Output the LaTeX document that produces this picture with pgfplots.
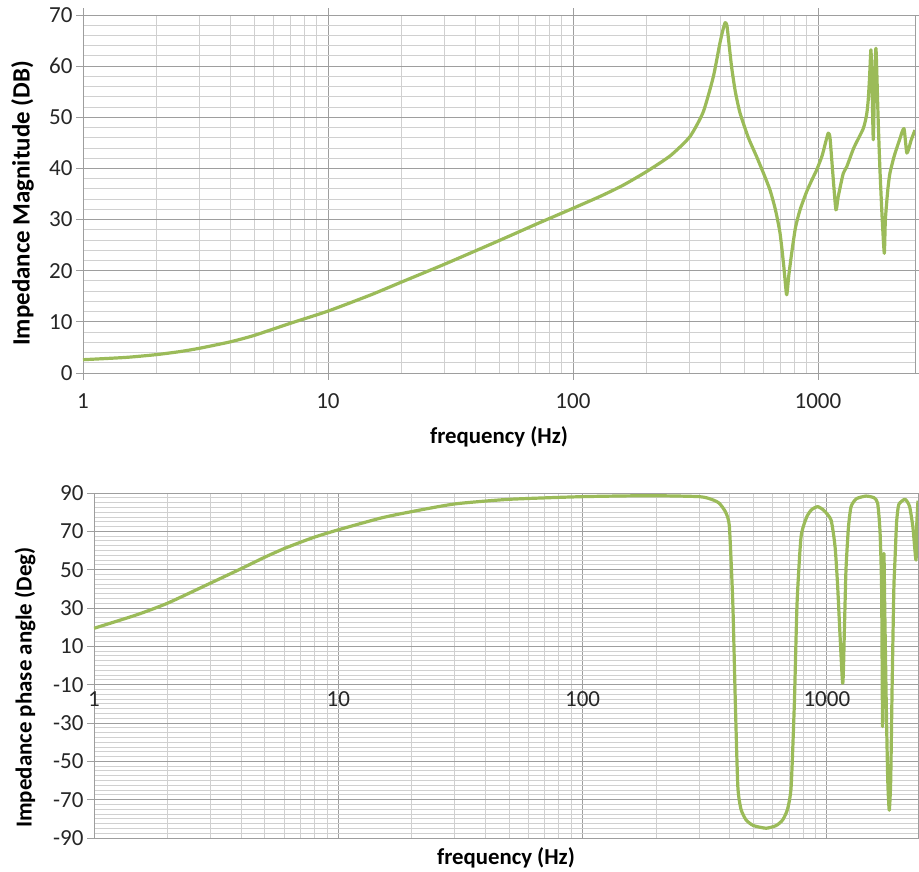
\documentclass[border=0pt]{standalone}
\usepackage{fontspec}
\setmainfont{Carlito}
\usepackage{pgfplots}
\pgfplotsset{compat=1.18}
\definecolor{curve}{RGB}{155,187,89}
\definecolor{majg}{RGB}{158,158,158}
\definecolor{ming}{RGB}{208,208,208}
\pgfplotstableread{
f db
1 2.6
1.5 3.05
2 3.6
2.5 4.2
3 4.85
4 6.1
5 7.35
7 9.7
10 12.1
15 15.3
20 17.8
30 21.3
50 25.9
70 29.0
100 32.2
130 34.6
160 36.7
200 39.4
250 42.5
300 46.2
340 51
374 57.9
398 64.5
410 67.2
418 68.5
425 68
432 65
444 59.9
460 55
481 50.8
520 46
562 42.3
600 39
637 35.8
670 32
700 27.4
725 21
745 15.3
760 19
781 23.4
810 28.5
845 31.9
900 35.5
950 38
988 39.7
1040 42.5
1080 45.5
1102 46.9
1120 46
1150 39
1184 31.9
1210 34.5
1268 39.0
1310 40.3
1400 44
1531 47.8
1580 50.5
1604 53.4
1625 58
1645 63.2
1660 58
1682 45.6
1700 55
1725 63.5
1760 50
1790 40
1830 30
1866 23.4
1885 30
1930 36
1968 39.1
2050 42.5
2150 45.5
2244 47.8
2307 43.0
2400 45.5
2489 47.5
}\magtable
\pgfplotstableread{
f ph
1 19.4
1.5 26.5
2 32.5
3 43
4 50.5
5 56.5
6 61
7 64.3
8 67
10 70.8
15 77
20 80.3
30 84.3
50 86.7
100 88.1
188 88.6
301 88.1
340 86.5
363 84.6
385 80
399 72.4
412 32.5
422 -19.7
432 -63.2
445 -75
467 -80.6
500 -83.5
564 -84.9
620 -83.5
659 -80.6
690 -75
714 -63.2
736 -19.7
755 32.5
784 67.2
830 78
870 81.5
916 82.9
970 81
1040 75.9
1080 62
1107 41.1
1160 -9.3
1180 20
1197 49.8
1225 72
1256 82.9
1320 87
1446 88.4
1560 87.5
1614 84.6
1650 70
1675 40
1690 -31.9
1700 20
1712 58.5
1725 30
1750 -20
1775 -60
1800 -75.5
1825 -60
1850 -10
1880 40
1900 55
1930 75
1970 84
2089 86.7
2180 83
2250 72
2316 55
2335 75
2360 86
}\phtable
\begin{document}
\begin{tikzpicture}
\useasboundingbox (0,0) rectangle (919pt,871pt);
\begin{semilogxaxis}[
  scale only axis,
  grid=both,
  major grid style={majg, line width=0.9pt},
  minor grid style={ming, line width=0.9pt},
  axis line style={majg, line width=0.9pt},
  tick style={majg, line width=0.9pt},
  tick align=outside, major tick length=7pt, minor tick length=0pt,
  ticklabel style={font=\fontsize{23}{27}\selectfont, text=black!85},
  xticklabel style={yshift=-10pt},
  xlabel style={font=\bfseries\fontsize{22.8}{27}\selectfont, text=black},
  ylabel style={font=\bfseries\fontsize{24.9}{29}\selectfont, text=black},
  xtick={1,10,100,1000}, xticklabels={1,10,100,1000},
  at={(83pt,498pt)}, anchor=south west, width=832pt, height=358pt,
  xmin=1, xmax=2490, ymin=0, ymax=70,
  ytick={0,10,...,70}, yticklabels={0,10,20,30,40,50,60,70}, minor y tick num=4,
  xlabel={frequency (Hz)}, ylabel={Impedance Magnitude (DB)},
  xlabel style={at={(axis description cs:0.5,-0.179)}, anchor=center},
  ylabel style={at={(axis description cs:-0.0727,0.4735)}, anchor=center},
]
\addplot[curve, line width=3.2pt, line join=round, smooth, tension=0.35] table[x=f, y=db] {\magtable};
\end{semilogxaxis}
\begin{semilogxaxis}[
  scale only axis,
  grid=both,
  major grid style={majg, line width=0.9pt},
  minor grid style={ming, line width=0.9pt},
  axis line style={majg, line width=0.9pt},
  tick style={majg, line width=0.9pt},
  tick align=outside, major tick length=7pt, minor tick length=0pt,
  ticklabel style={font=\fontsize{23}{27}\selectfont, text=black!85},
  xlabel style={font=\bfseries\fontsize{22.8}{27}\selectfont, text=black},
  ylabel style={font=\bfseries\fontsize{22.9}{27}\selectfont, text=black},
  xtick={1,10,100,1000}, xticklabels={1,10,100,1000},
  at={(94pt,33pt)}, anchor=south west, width=824pt, height=345pt,
  xmin=1, xmax=2360, ymin=-90, ymax=90,
  ytick={-90,-70,...,90}, yticklabels={-90,-70,-50,-30,-10,10,30,50,70,90},
  minor y tick num=7,
  xtick style={draw=none},
  xticklabel style={yshift=157pt},
  xlabel={frequency (Hz)}, ylabel={Impedance phase angle (Deg)},
  xlabel style={at={(axis description cs:0.5,-0.058)}, anchor=center},
  ylabel style={at={(axis description cs:-0.0837,0.436)}, anchor=center},
]
\addplot[curve, line width=3.2pt, line join=round, smooth, tension=0.35] table[x=f, y=ph] {\phtable};
\end{semilogxaxis}
\end{tikzpicture}
\end{document}
